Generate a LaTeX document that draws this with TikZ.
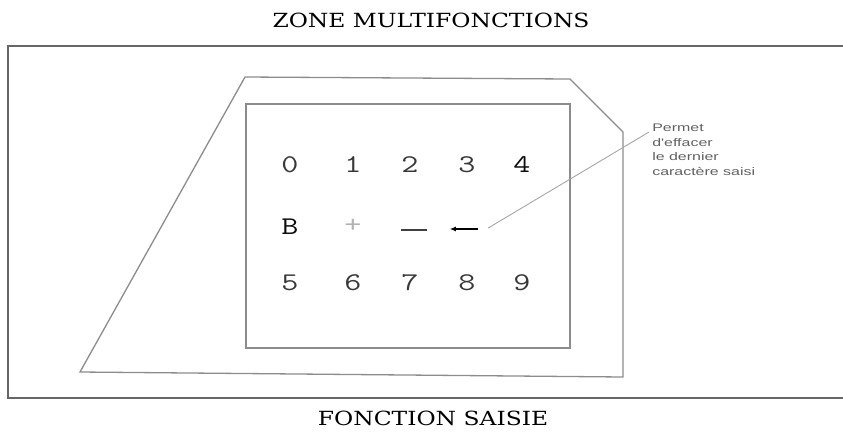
\documentclass[tikz,border=0pt]{standalone}
\usepackage{fontspec}
\setmainfont{DejaVu Serif}
\newfontfamily\notef{Liberation Sans}
\usetikzlibrary{calc,arrows.meta}
\begin{document}
\begin{tikzpicture}[x=1pt,y=-1pt,
  frame/.style={draw=black!60, line width=1.2pt},
  panel/.style={draw=black!45, line width=1.3pt, line join=miter},
  title/.style={font=\fontsize{19.5}{19.5}\selectfont, text=black, inner sep=0pt, xscale=1.2},
  key/.style={font=\ttfamily\fontsize{25.5}{25.5}\selectfont, text=black!78, inner sep=1pt, xscale=1.3},
  note/.style={font=\notef\fontsize{11}{14.5}\selectfont, text=black!62, align=left, inner sep=0pt, xscale=1.45}]
\useasboundingbox (0,0) rectangle (843,437);
% titles
\node[title] (t1) at (431,20) {ZONE MULTIFONCTIONS};
\node[title] (t2) at (433,418) {FONCTION SAISIE};
% outer frame (open on the right)
\draw[frame] (843,46) -- (8,46) -- (8,398) -- (843,398);
% trapezoid
\draw[panel] (80,372) -- (245,77) -- (570,79) -- (623,132) -- (623,377) -- cycle;
% inner rectangle
\draw[panel] (246,104) rectangle (570,348);
% keys
\node[key] (k0) at (290,165) {0};
\node[key] (k1) at (353,165) {1};
\node[key] (k2) at (410,165) {2};
\node[key] (k3) at (467,165) {3};
\node[key, text=black!95] (k4) at (522,165) {4};
\node[key, text=black!95] (kB) at (290,227) {B};
\node[key, text=black!30] (kp) at (353,226) {+};
\node[inner sep=0pt, minimum width=25pt, minimum height=2pt] (km) at (414,230) {};
\draw[draw=black!75, line width=1.6pt] (km.west) -- (km.east);
\node[inner sep=0pt, minimum width=28pt, minimum height=8pt] (ka) at (464,229) {};
\draw[draw=black, line width=1.4pt, -{Latex[length=6pt,width=5pt]}] (ka.east) -- (ka.west);
\node[key] (k5) at (290,283) {5};
\node[key] (k6) at (353,283) {6};
\node[key] (k7) at (410,283) {7};
\node[key] (k8) at (467,283) {8};
\node[key] (k9) at (522,283) {9};
% note
\node[note, anchor=north west] (nt) at (652,124) {Permet\\d'effacer\\le dernier\\caractère saisi};
\draw[draw=black!35, line width=0.9pt] ($(ka.east)+(10,-1)$) -- ($(nt.north west)+(-3,8)$);
\end{tikzpicture}
\end{document}
